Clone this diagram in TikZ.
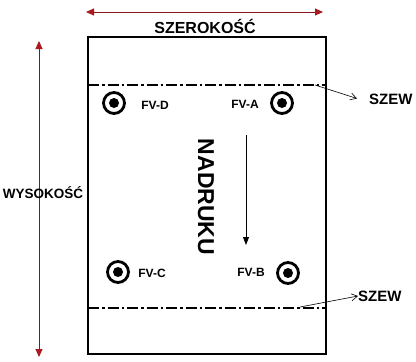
\documentclass[tikz,border=0pt]{standalone}
\usepackage{fontspec}
\setmainfont{Liberation Sans}
\usetikzlibrary{arrows.meta}
\definecolor{dimred}{RGB}{170,25,30}
\begin{document}
\begin{tikzpicture}[x=1pt,y=-1pt,
  dimarrow/.style={draw=dimred!80!black,line width=0.9pt,{Triangle[length=8pt,width=7pt,fill=dimred,color=dimred]}-{Triangle[length=8pt,width=7pt,fill=dimred,color=dimred]}},
  seam/.style={line width=1.1pt,dash pattern=on 11pt off 3pt on 2.5pt off 3pt},
  fvlabel/.style={font=\bfseries\fontsize{12}{14}\selectfont,inner sep=0pt},
  bigtext/.style={font=\bfseries\fontsize{16}{19}\selectfont,inner sep=0pt},
  szew/.style={font=\bfseries\fontsize{15}{18}\selectfont,inner sep=0pt,anchor=west},
  ring/.style={circle,draw,line width=2.8pt,minimum size=21pt,inner sep=0pt},
  dot/.style={circle,fill,minimum size=10pt,inner sep=0pt},
  leader/.style={-{Straight Barb[length=6pt,width=7pt]},line width=0.6pt}]
\useasboundingbox (0,0) rectangle (416,362);
% sheet
\node[draw,line width=1.3pt,minimum width=238pt,minimum height=317pt,inner sep=0pt] (sheet) at (207,195.5) {};
% dimensions
\coordinate (wl) at (86,12);
\coordinate (wr) at (323,12);
\draw[dimarrow] (wl) -- (wr);
\node[bigtext] (width) at (205,26) {SZEROKOŚĆ};
\coordinate (ht) at (39,41);
\coordinate (hb) at (39,357);
\draw[dimarrow] (ht) -- (hb);
\node[font=\bfseries\fontsize{13.5}{16}\selectfont,inner sep=0pt] (height) at (43,193) {WYSOKOŚĆ};
% seams
\coordinate (s1l) at (88,85);
\coordinate (s1r) at (326,85);
\draw[seam] (s1l) -- (s1r);
\coordinate (s2l) at (88,308);
\coordinate (s2r) at (326,308);
\draw[seam] (s2l) -- (s2r);
\node[szew] (szew1) at (369,99) {SZEW};
\node[szew] (szew2) at (358,296) {SZEW};
\coordinate (l1) at (315,85);
\coordinate (l1e) at (357,98.5);
\coordinate (l2) at (300,307);
\draw[leader] (l1) -- (l1e);
\draw[leader] (l2) -- (szew2.west);
% fixing points
\node[ring] (cd) at (114,103) {};
\node[dot] at (cd) {};
\node[ring] (ca) at (282,103) {};
\node[dot] at (ca) {};
\node[ring] (cc) at (118,272) {};
\node[dot] at (cc) {};
\node[ring] (cb) at (288,273) {};
\node[dot] at (cb) {};
\node[fvlabel] (fvd) at (155,105) {FV-D};
\node[fvlabel] (fva) at (245,104) {FV-A};
\node[fvlabel] (fvc) at (152,273) {FV-C};
\node[fvlabel] (fvb) at (251,272) {FV-B};
% print direction
\node[font=\bfseries\fontsize{23}{26}\selectfont,inner sep=0pt,rotate=-90] (nadruk) at (206,197) {NADRUKU};
\coordinate (pt) at (246,135);
\coordinate (pb) at (246,245);
\draw[-{Triangle[length=8pt,width=6pt]},line width=0.9pt] (pt) -- (pb);
\end{tikzpicture}
\end{document}
